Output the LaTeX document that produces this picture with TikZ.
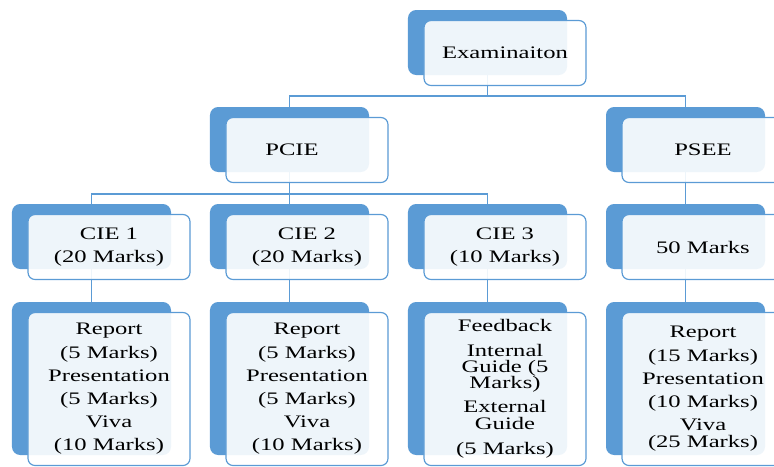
\documentclass[tikz,border=0pt]{standalone}
\usepackage{fontspec}
\setmainfont[FakeStretch=1.4]{Liberation Serif}
\definecolor{boxblue}{HTML}{5B9BD5}
\tikzset{
  back/.style={rectangle, rounded corners=7pt, fill=boxblue, minimum width=4.77cm, minimum height=1.95cm},
  front/.style={rectangle, rounded corners=6pt, draw=boxblue, line width=1pt, fill=white, fill opacity=0.9, text opacity=1,
    minimum width=4.86cm, minimum height=1.95cm, align=center, font=\fontsize{15}{19.8}\selectfont},
  tall/.style={minimum height=4.59cm},
  conn/.style={draw=boxblue, line width=1.4pt}
}

\begin{document}
\begin{tikzpicture}[x=0.03cm,y=-0.03cm]
	\useasboundingbox (0,0) rectangle (774,466);
	\clip (0,0) rectangle (774,466);

	% back boxes
	\node[back] (exam) at (487.5,42.5) {};
	\node[back] (pcie) at (289.5,139.5) {};
	\node[back] (psee) at (685.5,139.5) {};
	\node[back] (cie1) at (91.5,236.5) {};
	\node[back] (cie2) at (289.5,236.5) {};
	\node[back] (cie3) at (487.5,236.5) {};
	\node[back] (marks) at (685.5,236.5) {};
	\node[back,tall] (det1) at (91.5,378.5) {};
	\node[back,tall] (det2) at (289.5,378.5) {};
	\node[back,tall] (det3) at (487.5,378.5) {};
	\node[back,tall] (det4) at (685.5,378.5) {};

	% connectors
	\draw[conn] (exam.south) -- ++(0,21) -| (pcie.north);
	\draw[conn] (exam.south) -- ++(0,21) -| (psee.north);
	\draw[conn] (pcie.south) -- ++(0,22) -| (cie1.north);
	\draw[conn] (pcie.south) -- ++(0,22) -| (cie3.north);
	\draw[conn] (pcie.south) -- (cie2.north);
	\draw[conn] (psee.south) -- (marks.north);
	\draw[conn] (cie1.south) -- (det1.north);
	\draw[conn] (cie2.south) -- (det2.north);
	\draw[conn] (cie3.south) -- (det3.north);
	\draw[conn] (marks.south) -- (det4.north);

	% front boxes
	\node[front] (examF) at ([shift={(17.5,10.5)}]exam.center) {Examinaiton};
	\node[front] (pcieF) at ([shift={(17.5,10.5)}]pcie.center) {PCIE\hspace*{0.9cm}};
	\node[front] (pseeF) at ([shift={(17.5,10.5)}]psee.center) {PSEE};
	\node[front] (cie1F) at ([shift={(17.5,10.5)}]cie1.center) {CIE 1\\(20 Marks)};
	\node[front] (cie2F) at ([shift={(17.5,10.5)}]cie2.center) {CIE 2\\(20 Marks)};
	\node[front] (cie3F) at ([shift={(17.5,10.5)}]cie3.center) {CIE 3\\(10 Marks)};
	\node[front] (marksF) at ([shift={(17.5,10.5)}]marks.center) {50 Marks};
	\node[front,tall] (det1F) at ([shift={(17.5,10.5)}]det1.center) {Report\\(5 Marks)\\Presentation\\(5 Marks)\\Viva\\(10 Marks)};
	\node[front,tall] (det2F) at ([shift={(17.5,10.5)}]det2.center) {Report\\(5 Marks)\\Presentation\\(5 Marks)\\Viva\\(10 Marks)};
	\node[front,tall] (det3F) at ([shift={(17.5,10.5)}]det3.center) {Feedback\\[1pt]Internal\\[-6pt]Guide (5\\[-6pt]Marks)\\[1pt]External\\[-6pt]Guide\\[2pt](5 Marks)};
	\node[front,tall] (det4F) at ([shift={(17.5,10.5)}]det4.center) {Report\\(15 Marks)\\Presentation\\(10 Marks)\\Viva\\[-5pt](25 Marks)};
\end{tikzpicture}
\end{document}
